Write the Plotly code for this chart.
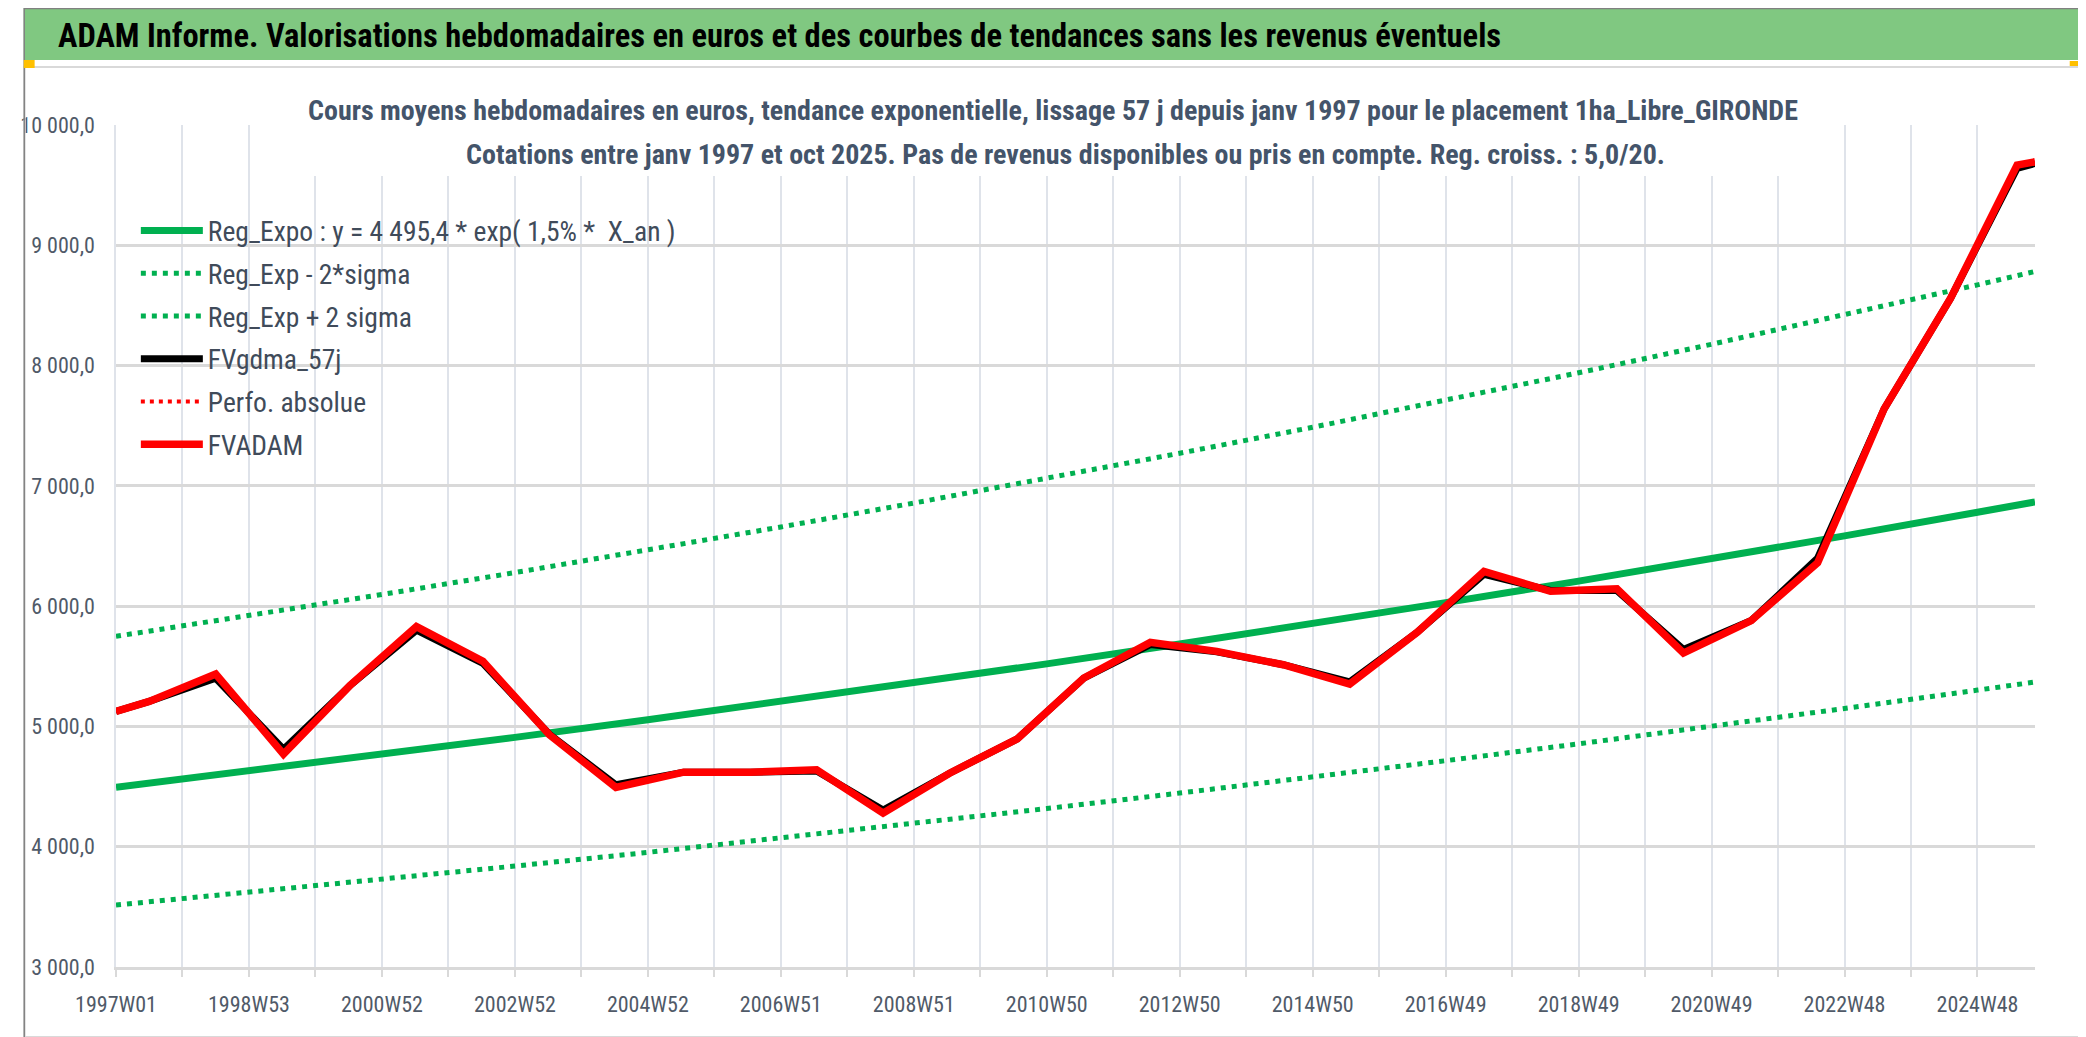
import datetime as dt
import plotly.graph_objects as go

# ---------------- data ----------------
x_tick_labels = ["1997W01", "1998W53", "2000W52", "2002W52", "2004W52", "2006W51",
                 "2008W51", "2010W50", "2012W50", "2014W50", "2016W49", "2018W49",
                 "2020W49", "2022W48", "2024W48"]
y_tick_values = [3000, 4000, 5000, 6000, 7000, 8000, 9000, 10000]

fv_weeks = ["1997W01", "1997W27", "1998W27", "1999W27", "2000W27", "2001W27", "2002W27",
            "2003W27", "2004W27", "2005W27", "2006W27", "2007W27", "2008W27", "2009W27",
            "2010W27", "2011W27", "2012W27", "2013W27", "2014W27", "2015W27", "2016W27",
            "2017W27", "2018W27", "2019W27", "2020W27", "2021W27", "2022W27", "2023W27",
            "2024W27", "2025W27", "2025W41"]
fvadam = [5125, 5208, 5435, 4770, 5340, 5830, 5541, 4930, 4493, 4620, 4620, 4639, 4279,
          4611, 4897, 5402, 5699, 5624, 5513, 5352, 5785, 6289, 6123, 6145, 5610, 5880,
          6360, 7640, 8560, 9666, 9694]
fvgdma = [5125, 5208, 5400, 4810, 5340, 5800, 5525, 4935, 4515, 4620, 4620, 4630, 4305,
          4611, 4897, 5402, 5680, 5620, 5513, 5370, 5785, 6265, 6130, 6130, 5640, 5880,
          6400, 7640, 8560, 9640, 9680]
perfo = [5125, 5208, 5435, 4770, 5340, 5830, 5541, 4930, 4493, 4620, 4620, 4639, 4279,
         4611, 4897, 5402, 5699, 5624, 5513, 5352, 5785, 6289, 6123, 6145, 5610, 5880,
         6360, 7640, 8560, 9666, 9694]

reg_weeks = x_tick_labels + ["2025W41"]
reg_expo = [4495, 4629, 4767, 4909, 5055, 5206, 5361, 5520, 5685, 5854, 6029, 6208,
            6393, 6584, 6780, 6866]
reg_plus = [5749, 5920, 6097, 6279, 6465, 6658, 6857, 7060, 7271, 7487, 7711, 7940,
            8177, 8421, 8671, 8782]
reg_minus = [3515, 3620, 3728, 3839, 3953, 4071, 4192, 4317, 4446, 4578, 4715, 4855,
             4999, 5149, 5302, 5369]

title_text = ("ADAM Informe. Valorisations hebdomadaires en euros et des courbes de "
              "tendances sans les revenus éventuels")
sub1 = ("Cours moyens hebdomadaires en euros, tendance exponentielle, lissage 57 j depuis "
        "janv 1997 pour le placement 1ha_Libre_GIRONDE")
sub2 = ("Cotations entre janv 1997 et oct 2025. Pas de revenus disponibles ou pris en "
        "compte. Reg. croiss. : 5,0/20.")

# ---------------- helpers ----------------
START = dt.date.fromisocalendar(1997, 1, 1)


def week_index(label):
    y, w = label.split("W")
    d = dt.date.fromisocalendar(int(y), int(w), 1)
    return (d - START).days // 7


W, H = 2086, 1037
ML, MR, MT, MB = 93, 59, 117, 78
PW, PH = W - ML - MR, H - MT - MB


def px(x):
    return (x - ML) / PW


def py(y):
    return (H - MB - y) / PH


FONT = "Roboto Condensed, DejaVu Sans Condensed, sans-serif"

fv_x = [week_index(s) for s in fv_weeks]
reg_x = [week_index(s) for s in reg_weeks]
lab_idx = [week_index(s) for s in x_tick_labels]
tickvals, ticktext = [], []
for i, v in zip(lab_idx, x_tick_labels):
    tickvals += [i, i + 52]
    ticktext += [v, ""]

fig = go.Figure()
fig.add_trace(go.Scatter(x=reg_x, y=reg_expo, mode="lines",
                         name="Reg_Expo : y = 4 495,4 * exp( 1,5% *  X_an )",
                         line=dict(color="#00B050", width=7), legendgroup="a"))
fig.add_trace(go.Scatter(x=reg_x, y=reg_minus, mode="lines", name="Reg_Exp - 2*sigma",
                         line=dict(color="#00B050", width=5, dash="5px,6px"), legendgroup="b"))
fig.add_trace(go.Scatter(x=reg_x, y=reg_plus, mode="lines", name="Reg_Exp + 2 sigma",
                         line=dict(color="#00B050", width=5, dash="5px,6px"), legendgroup="c"))
fig.add_trace(go.Scatter(x=fv_x, y=fvgdma, mode="lines", name="FVgdma_57j",
                         line=dict(color="#000000", width=7), legendgroup="d"))
fig.add_trace(go.Scatter(x=fv_x, y=perfo, mode="lines", name="Perfo. absolue",
                         line=dict(color="#FF0000", width=4, dash="4px,5px"), legendgroup="e"))
fig.add_trace(go.Scatter(x=fv_x, y=fvadam, mode="lines", name="FVADAM",
                         line=dict(color="#FF0000", width=7.5), legendgroup="f"))

shapes = [
    dict(type="rect", xref="paper", yref="paper", x0=px(0), x1=px(W), y0=py(52), y1=py(0),
         fillcolor="#80C881", line=dict(width=0), layer="below"),
    dict(type="rect", xref="paper", yref="paper", x0=px(1), x1=px(2079), y0=py(1029), y1=py(59),
         fillcolor="rgba(0,0,0,0)", line=dict(color="#D9D9D9", width=2)),
    dict(type="rect", xref="paper", yref="paper", x0=px(0.5), x1=px(W - 0.5), y0=py(H - 0.5),
         y1=py(0.5), fillcolor="rgba(0,0,0,0)", line=dict(color="#808080", width=1.5)),
    dict(type="rect", xref="paper", yref="paper", x0=px(284), x1=px(1797), y0=py(168), y1=py(62),
         fillcolor="white", line=dict(width=0), layer="above"),
]
for (x0, y0, x1, y1) in [(0, 52, 11, 60), (2062, 53, 2084, 58), (2079, 53, 2084, 63),
                         (2079, 992, 2084, 1036), (2062, 1029, 2084, 1036), (0, 1030, 11, 1036)]:
    shapes.append(dict(type="rect", xref="paper", yref="paper", x0=px(x0), x1=px(x1),
                       y0=py(y1), y1=py(y0), fillcolor="#FFC000", line=dict(width=0)))
for (x0, x1) in [(834, 968), (1241, 1385)]:
    shapes.append(dict(type="rect", xref="paper", yref="paper", x0=px(x0), x1=px(x1),
                       y0=py(1036), y1=py(1032), fillcolor="#FFF3A0", line=dict(width=0)))

annotations = [
    dict(text="<b>" + title_text + "</b>", xref="paper", yref="paper", x=px(33), y=py(28),
         xanchor="left", yanchor="middle", showarrow=False,
         font=dict(family=FONT, size=32.5, color="#000000")),
    dict(text="<b>" + sub1 + "</b>", xref="paper", yref="paper", x=px(1037), y=py(103),
         xanchor="center", yanchor="middle", showarrow=False,
         font=dict(family=FONT, size=28, color="#44546A")),
    dict(text="<b>" + sub2 + "</b>", xref="paper", yref="paper", x=px(1050), y=py(146),
         xanchor="center", yanchor="middle", showarrow=False,
         font=dict(family=FONT, size=28, color="#44546A")),
]

fig.update_layout(
    width=W, height=H,
    margin=dict(l=ML, r=MR, t=MT, b=MB),
    paper_bgcolor="white", plot_bgcolor="white",
    separators=", ",
    font=dict(family=FONT, color="#505A68"),
    shapes=shapes, annotations=annotations,
    showlegend=True,
    legend=dict(x=px(113), y=py(198), xanchor="left", yanchor="top", itemwidth=62,
                bgcolor="rgba(0,0,0,0)", font=dict(family=FONT, size=27.5, color="#404B5A"),
                tracegroupgap=4, traceorder="grouped"),
    xaxis=dict(range=[0, week_index("2025W41")], tickmode="array", tickvals=tickvals,
               ticktext=ticktext, showgrid=True, gridcolor="#DFE3EA", gridwidth=1.5,
               ticks="outside", ticklen=7, tickcolor="#D9D9D9", tickwidth=1.5,
               showline=True, linecolor="#D9D9D9", linewidth=2.5, zeroline=False,
               tickfont=dict(family=FONT, size=22, color="#505A68"), ticklabelstandoff=9),
    yaxis=dict(range=[3000, 10000], tickmode="array", tickvals=y_tick_values,
               tickformat=",.1f", showgrid=True, gridcolor="#D9D9D9", gridwidth=2.5,
               showline=True, linecolor="#DFE3EA", linewidth=1.5, zeroline=False, ticks="",
               tickfont=dict(family=FONT, size=22, color="#505A68"), ticklabelstandoff=15),
)

fig.write_html("out.html")
